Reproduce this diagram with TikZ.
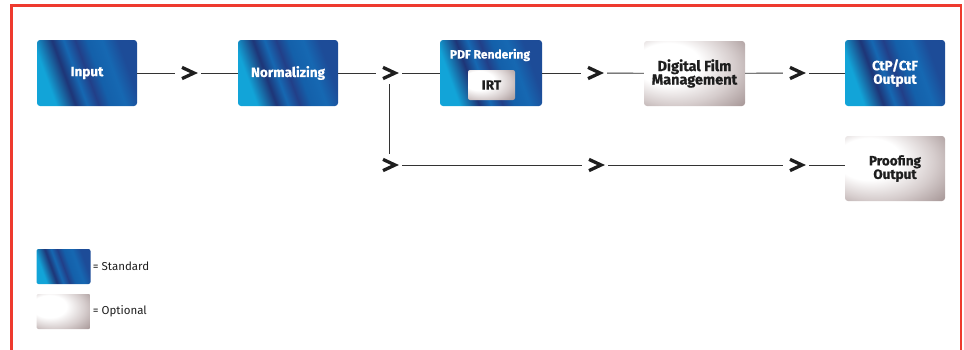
\documentclass[tikz,border=0pt]{standalone}
\usepackage{fontspec}
\setmainfont{Fira Sans}
\newfontfamily\heavy{Fira Sans}[BoldFeatures={FakeBold=0.6}]
\usetikzlibrary{calc}
\definecolor{frame}{HTML}{EE3A2E}
\definecolor{bA}{HTML}{12A4D8}
\definecolor{bB}{HTML}{1E3577}
\definecolor{bC}{HTML}{1668B2}
\definecolor{bD}{HTML}{223F88}
\definecolor{bE}{HTML}{1460AA}
\definecolor{bF}{HTML}{1D4C98}
\definecolor{gA}{HTML}{FFFFFF}
\definecolor{gB}{HTML}{D6CDCD}
\definecolor{gC}{HTML}{A39393}
\definecolor{linec}{HTML}{333333}
\definecolor{darktext}{HTML}{1E1E1E}
\pgfdeclarehorizontalshading{bluestreak}{100bp}{color(0bp)=(bA); color(28bp)=(bA); color(38bp)=(bB); color(44bp)=(bC); color(50bp)=(bD); color(56bp)=(bE); color(64bp)=(bC); color(72bp)=(bF); color(100bp)=(bF)}
\pgfdeclareradialshading{greyshade}{\pgfpoint{-18bp}{10bp}}{color(0bp)=(gA); color(16bp)=(gA); color(29bp)=(gB); color(42bp)=(gC); color(60bp)=(gC)}
\tikzset{
  box/.style={rounded corners=3pt, minimum width=100pt, minimum height=66pt, inner sep=0pt, align=center, font=\heavy\fontsize{13.5}{13.5}\selectfont\bfseries},
  bluebox/.style={box, shade, shading=bluestreak, shading angle=20, text=white},
  greybox/.style={box, shade, shading=greyshade, text=darktext},
  chev/.style={minimum width=26pt, minimum height=22pt, inner sep=0pt,
    path picture={\draw[line width=3.3pt, darktext]
      ([shift={(-6pt,5.6pt)}]path picture bounding box.center) --
      ([shift={(6pt,0pt)}]path picture bounding box.center) --
      ([shift={(-6pt,-5.6pt)}]path picture bounding box.center);}},
  conn/.style={linec, line width=0.9pt},
  legend/.style={font=\fontsize{11.5}{13}\selectfont, anchor=west, inner sep=0pt, text=darktext}
}
\begin{document}
\begin{tikzpicture}[x=1pt,y=-1pt]
\useasboundingbox (0,0) rectangle (964,349);
\draw[frame, line width=2.4pt] (11.5,352) -- (11.5,5.5) -- (961,5.5) -- (961,352);
% main row
\node[bluebox] (in) at (87,73) {Input};
\node[bluebox] (norm) at (288,73) {Normalizing};
\node[bluebox, minimum width=102pt] (pdf) at (491,73) {};
\node[font=\heavy\fontsize{12}{13}\selectfont\bfseries, text=white, inner sep=0pt] (pdft) at (490,55) {PDF Rendering};
\node[greybox, minimum width=47pt, minimum height=30pt, rounded corners=2pt] (irt) at (491.5,85) {IRT};
\node[greybox, minimum width=101pt, minimum height=65pt, font=\heavy\fontsize{14.5}{13.5}\selectfont\bfseries] (dfm) at (694.5,73.5) {Digital Film\\Management};
\node[bluebox] (ctp) at (895,73) {CtP/CtF\\Output};
\node[greybox, minimum height=65pt] (proof) at (895,168.5) {Proofing\\Output};
% chevrons
\node[chev] (c1) at (188,73) {};
\node[chev] (c2) at (389,73) {};
\node[chev] (c3) at (594,73) {};
\node[chev] (c4) at (796,73) {};
\node[chev] (c5) at (389,165) {};
\node[chev] (c6) at (595,165) {};
\node[chev] (c7) at (796,165) {};
% connectors
\draw[conn] (in) -- (c1);
\draw[conn] (c1) -- (norm);
\draw[conn] (norm) -- (c2);
\draw[conn] (c2) -- (pdf);
\draw[conn] (pdf) -- (c3);
\draw[conn] (c3) -- (dfm);
\draw[conn] (dfm) -- (c4);
\draw[conn] (c4) -- (ctp);
\draw[conn] (c2.south) -- (c5.north);
\draw[conn] (c5) -- (c6);
\draw[conn] (c6) -- (c7);
\draw[conn] (c7) -- (c7 -| proof.west);
% legend
\node[bluebox, minimum width=54pt, minimum height=35pt, rounded corners=2pt] (lstd) at (63.5,266.5) {};
\node[legend] (lstdt) at ([xshift=2pt]lstd.east) {= Standard};
\node[greybox, minimum width=54pt, minimum height=35pt, rounded corners=2pt] (lopt) at (63.5,311.5) {};
\node[legend] (loptt) at ([xshift=2pt]lopt.east) {= Optional};
\end{tikzpicture}
\end{document}
